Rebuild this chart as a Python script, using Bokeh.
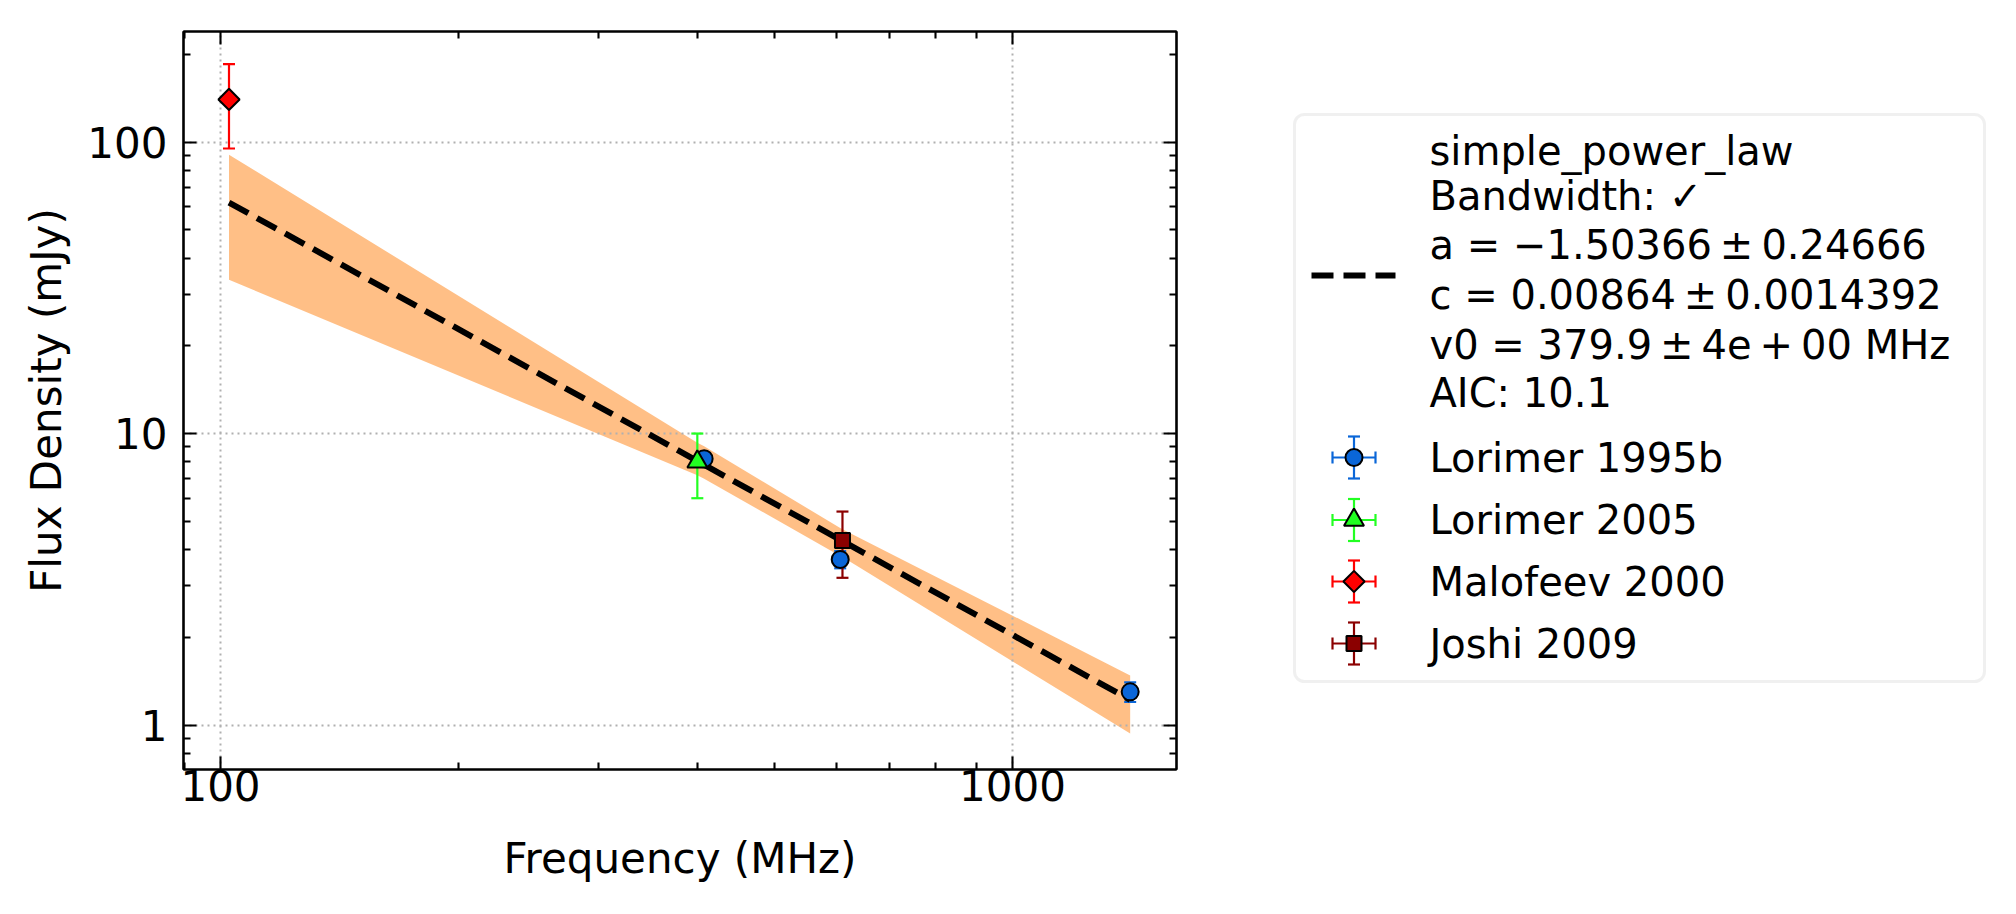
import math
from bokeh.plotting import figure
from bokeh.models import (Range1d, FixedTicker, LogAxis, CustomJSTickFormatter,
                          NumeralTickFormatter, BoxAnnotation)
from bokeh.layouts import row
from bokeh.embed import file_html
from bokeh.resources import INLINE
from bokeh.core.properties import value

# ---------------- data ----------------
series_names = ["Lorimer 1995b", "Lorimer 2005", "Malofeev 2000", "Joshi 2009"]

lor95_freq = [408.0, 606.0, 1408.0]
lor95_flux = [8.2, 3.7, 1.3]
lor95_err = [0.4, 0.25, 0.1]

lor05_freq = [400.0]
lor05_flux = [8.0]
lor05_err = [2.0]

malo_freq = [102.5]
malo_flux = [140.0]
malo_err = [45.0]

joshi_freq = [610.0]
joshi_flux = [4.3]
joshi_err = [1.1]

fit_freq = [102.5, 1408.0]
fit_flux = [62.0, 1.22]

band_freq = [102.5, 400.0, 408.0, 606.0, 610.0, 1408.0]
band_upper = [90.5, 9.3, 9.05, 4.74, 4.70, 1.48]
band_lower = [33.7, 7.2, 7.0, 3.80, 3.77, 0.935]

TS = "\u2009"  # thin space (math spacing around binary operators)
fit_label = ["simple_power_law",
             "Bandwidth: \u2713",
             "a = \u22121.50366" + TS + "\u00b1" + TS + "0.24666",
             "c = 0.00864" + TS + "\u00b1" + TS + "0.0014392",
             "v0 = 379.9" + TS + "\u00b1" + TS + "4e" + TS + "+" + TS + "00 MHz",
             "AIC: 10.1"]

x_ticks = [100, 1000]
x_minor = [90, 200, 300, 400, 500, 600, 700, 800, 900]
y_ticks = [1, 10, 100]
y_minor = [0.8, 0.9, 2, 3, 4, 5, 6, 7, 8, 9, 20, 30, 40, 50, 60, 70, 80, 90, 200]

x_label = "Frequency (MHz)"
y_label = "Flux Density (mJy)"

# ---------------- styles ----------------
FONT = "DejaVu Sans"
FS = "42px"
FS_LEG = "40px"
series = [
    dict(freq=lor95_freq, flux=lor95_flux, err=lor95_err, color="#0a66d8", marker="circle", size=17, angle=0.0),
    dict(freq=lor05_freq, flux=lor05_flux, err=lor05_err, color="#22ff22", marker="triangle", size=20, angle=0.0),
    dict(freq=malo_freq, flux=malo_flux, err=malo_err, color="#ff0000", marker="square", size=15, angle=math.pi / 4),
    dict(freq=joshi_freq, flux=joshi_flux, err=joshi_err, color="#8b0000", marker="square", size=15, angle=0.0),
]

B_LEFT, FRAME_W, B_RIGHT = 183, 993, 64
B_TOP, FRAME_H, B_BOTTOM = 31, 738, 145

# ---------------- main plot ----------------
p = figure(x_axis_type="log", y_axis_type="log",
           x_range=Range1d(89.8, 1611), y_range=Range1d(0.704, 239.4),
           frame_width=FRAME_W, frame_height=FRAME_H,
           min_border_left=B_LEFT, min_border_right=B_RIGHT,
           min_border_top=B_TOP, min_border_bottom=B_BOTTOM,
           output_backend="svg", toolbar_location=None,
           x_axis_label=x_label, y_axis_label=y_label)
p.background_fill_color = "white"
p.border_fill_color = "white"
p.outline_line_color = "black"
p.outline_line_width = 2.1

bottom = p.below[0]
left = p.left[0]

xt = FixedTicker(ticks=x_ticks, minor_ticks=x_minor)
yt = FixedTicker(ticks=y_ticks, minor_ticks=y_minor)
bottom.ticker = xt
left.ticker = yt
bottom.formatter = NumeralTickFormatter(format="0")
left.formatter = NumeralTickFormatter(format="0")
p.xgrid.ticker = xt
p.ygrid.ticker = yt

top = LogAxis(ticker=xt, formatter=CustomJSTickFormatter(code="return ''"))
right = LogAxis(ticker=yt, formatter=CustomJSTickFormatter(code="return ''"))
p.add_layout(top, "above")
p.add_layout(right, "right")

for ax in [bottom, left, top, right]:
    ax.axis_line_width = 2.1
    ax.axis_line_color = "black"
    ax.major_tick_line_width = 2.1
    ax.minor_tick_line_width = 2.1
    ax.major_tick_line_color = "black"
    ax.minor_tick_line_color = "black"
    ax.major_tick_in = 13
    ax.major_tick_out = 0
    ax.minor_tick_in = 7
    ax.minor_tick_out = 0
    ax.major_label_text_font = FONT
    ax.major_label_text_font_size = FS
    ax.major_label_text_color = "black"
    ax.axis_label_text_font = FONT
    ax.axis_label_text_font_size = FS
    ax.axis_label_text_font_style = "normal"
    ax.axis_label_text_color = "black"
for ax in [top, right]:
    ax.major_label_text_font_size = "0px"
    ax.major_label_standoff = 0

bottom.major_label_standoff = 0
bottom.axis_label_standoff = 30
left.major_label_standoff = 16
left.axis_label_standoff = 13

p.grid.grid_line_color = "#b0b0b0"
p.grid.grid_line_width = 2
p.grid.grid_line_dash = "2 4"

# band below grid
p.varea(x=band_freq, y1=band_lower, y2=band_upper, fill_color="#ff7f0e", fill_alpha=0.5, level="image")

# error bars
for s in series:
    lo = [v - e for v, e in zip(s["flux"], s["err"])]
    hi = [v + e for v, e in zip(s["flux"], s["err"])]
    p.segment(x0=s["freq"], y0=lo, x1=s["freq"], y1=hi, line_color=s["color"], line_width=2.2)
    p.scatter(x=s["freq"] + s["freq"], y=lo + hi, marker="dash", size=12,
              line_color=s["color"], line_width=2.2)

# fit line
p.line(fit_freq, fit_flux, line_color="black", line_width=6, line_dash="22 10")

# markers
for s in series:
    p.scatter(x=s["freq"], y=s["flux"], marker=s["marker"], size=s["size"], angle=s["angle"],
              fill_color=s["color"], line_color="black", line_width=2)

# ---------------- legend panel (same border structure so the row aligns exactly) ----------------
W_MAIN = B_LEFT + FRAME_W + B_RIGHT
LG_W = 2016 - W_MAIN
lg = figure(frame_width=LG_W, frame_height=FRAME_H,
            min_border_left=0, min_border_right=0, min_border_top=B_TOP, min_border_bottom=B_BOTTOM,
            x_range=Range1d(W_MAIN, 2016), y_range=Range1d(914 - (B_TOP + FRAME_H), 914 - B_TOP),
            x_axis_location=None, y_axis_location=None,
            output_backend="svg", toolbar_location=None)
lg.grid.visible = False
lg.outline_line_color = None
lg.background_fill_color = "white"
lg.border_fill_color = "white"


def Y(y):
    return 914 - y


box = BoxAnnotation(left=1294, right=1984, bottom=Y(681), top=Y(114),
                    fill_color="white", fill_alpha=1.0, line_color="#cccccc", line_width=3,
                    border_radius=10, level="underlay")
lg.add_layout(box)

TX = 1429
fit_centers = [150, 195, 244, 294, 344, 392]
lg.text(x=[TX] * len(fit_label), y=[Y(c) for c in fit_centers], text=fit_label,
        text_font=value(FONT), text_font_size=value(FS_LEG), text_color="black",
        text_baseline="middle", text_align="left")
lg.line(x=[1311, 1395], y=[Y(275), Y(275)], line_color="black", line_width=6, line_dash="22 10")

MX = 1353.5
marker_centers = [457, 519.5, 581, 643]
lg.text(x=[TX] * len(series_names), y=[Y(c) for c in marker_centers], text=series_names,
        text_font=value(FONT), text_font_size=value(FS_LEG), text_color="black",
        text_baseline="middle", text_align="left")
for s, c in zip(series, marker_centers):
    yc = Y(c)
    lg.segment(x0=[MX - 21.5, MX], y0=[yc, yc - 21], x1=[MX + 21.5, MX], y1=[yc, yc + 21],
               line_color=s["color"], line_width=2.2)
    lg.scatter(x=[MX, MX], y=[yc - 21, yc + 21], marker="dash", size=12,
               line_color=s["color"], line_width=2.2)
    lg.scatter(x=[MX - 21.5, MX + 21.5], y=[yc, yc], marker="dash", size=12, angle=math.pi / 2,
               line_color=s["color"], line_width=2.2)
    lg.scatter(x=[MX], y=[yc], marker=s["marker"], size=s["size"], angle=s["angle"],
               fill_color=s["color"], line_color="black", line_width=2)

layout = row(p, lg, spacing=0)
open("out.html", "w").write(file_html(layout, INLINE))
